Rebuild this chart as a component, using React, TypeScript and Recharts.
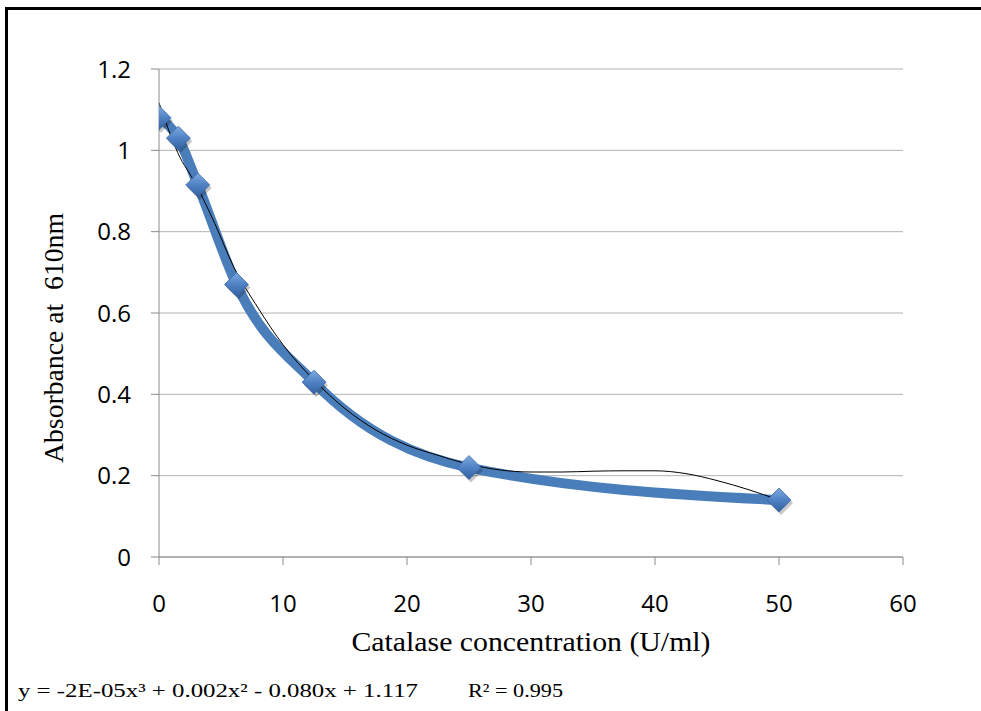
import { ComposedChart, Line, XAxis, YAxis, CartesianGrid } from 'recharts'

// measured absorbance vs catalase concentration
const concentration = [0, 1.5625, 3.125, 6.25, 12.5, 25, 50]
const absorbance = [1.08, 1.03, 0.915, 0.67, 0.43, 0.22, 0.14]

// polynomial trendline
const trendX = [0, 1.5, 3, 4.5, 6, 8, 10, 12.5, 15, 17.5, 20, 22.5, 25, 27.5, 30, 32.5, 35, 37.5, 40, 42.5, 45, 47.5, 50]
const trendY = [1.117, 0.995, 0.915, 0.82, 0.715, 0.612, 0.522, 0.435, 0.365, 0.312, 0.275, 0.25, 0.228, 0.214, 0.209, 0.209, 0.211, 0.212, 0.212, 0.205, 0.188, 0.166, 0.14]

const xTicks = [0, 10, 20, 30, 40, 50, 60]
const yTicks = [0, 0.2, 0.4, 0.6, 0.8, 1, 1.2]

const xTitle = 'Catalase concentration (U/ml)'
const yTitle = 'Absorbance at  610nm'
const equation = 'y = -2E-05x³ + 0.002x² - 0.080x + 1.117'
const rSquared = 'R² = 0.995'

const points = concentration.map((x, i) => ({ x, y: absorbance[i] }))
const trend = trendX.map((x, i) => ({ x, y: trendY[i] }))

const axisColor = '#8a8a8a'
const gridColor = '#b2b2b2'
const tickFont = { fontSize: 24, fill: '#000', fontFamily: '"Open Sans", sans-serif' }
const serif = '"Liberation Serif", "Times New Roman", serif'

function Diamond(props: any) {
  const { cx, cy, index } = props
  if (cx == null || cy == null) return null
  const r = 12
  const id = `dg${index}`
  const pts = (dx: number, dy: number) =>
    `${cx + dx},${cy - r + dy} ${cx + r + dx},${cy + dy} ${cx + dx},${cy + r + dy} ${cx - r + dx},${cy + dy}`
  return (
    <g key={id}>
      <defs>
        <linearGradient id={id} x1="0" y1="0" x2="0" y2="1">
          <stop offset="0" stopColor="#7faae0" />
          <stop offset="0.5" stopColor="#4f81c4" />
          <stop offset="1" stopColor="#33619f" />
        </linearGradient>
      </defs>
      <polygon points={pts(2, 3)} fill="#000" opacity={0.22} />
      <polygon points={pts(0, 0)} fill={`url(#${id})`} stroke="#3a68a8" strokeWidth={0.8} />
    </g>
  )
}

export default function App() {
  return (
    <div style={{ position: 'absolute', left: 0, top: 0, width: 981, height: 711, overflow: 'hidden', background: '#fff' }}>
      <div style={{ position: 'absolute', left: 5, top: 7, width: 1100, height: 900, border: '3px solid #000' }} />
      <div style={{ position: 'absolute', left: 0, top: 0 }}>
        <ComposedChart width={981} height={711} margin={{ top: 69, right: 78, bottom: 0, left: 0 }}>
          <CartesianGrid horizontal vertical={false} stroke={gridColor} />
          <XAxis
            type="number"
            dataKey="x"
            domain={[0, 60]}
            ticks={xTicks}
            height={154}
            stroke={axisColor}
            tickSize={8}
            tickMargin={30}
            tick={tickFont}
            allowDataOverflow
          />
          <YAxis
            type="number"
            dataKey="y"
            domain={[0, 1.2]}
            ticks={yTicks}
            width={159}
            stroke={axisColor}
            tickSize={8}
            tickMargin={20}
            tick={tickFont}
            tickFormatter={(v: number) => String(Number(v.toFixed(1)))}
          />
          <Line
            data={points}
            dataKey="y"
            type="monotone"
            stroke="#4a7ebb"
            strokeWidth={10}
            dot={<Diamond />}
            activeDot={false}
            isAnimationActive={false}
          />
          <Line
            data={trend}
            dataKey="y"
            type="monotone"
            stroke="#000"
            strokeWidth={1}
            dot={false}
            activeDot={false}
            isAnimationActive={false}
          />
        </ComposedChart>
      </div>
      <svg width={981} height={711} style={{ position: 'absolute', left: 0, top: 0, pointerEvents: 'none', whiteSpace: 'pre' }}>
        <text x={531} y={651} textAnchor="middle" fontFamily={serif} fontSize={27} textLength={359} lengthAdjust="spacingAndGlyphs">
          {xTitle}
        </text>
        <text
          transform="translate(63,338) rotate(-90)"
          textAnchor="middle"
          fontFamily={serif}
          fontSize={27}
          textLength={250}
          lengthAdjust="spacingAndGlyphs"
          style={{ whiteSpace: 'pre' }}
        >
          {yTitle}
        </text>
        <text x={18} y={697} fontFamily={serif} fontSize={19} textLength={400} lengthAdjust="spacingAndGlyphs">
          {equation}
        </text>
        <text x={468} y={697} fontFamily={serif} fontSize={19} textLength={95} lengthAdjust="spacingAndGlyphs">
          {rSquared}
        </text>
      </svg>
    </div>
  )
}
